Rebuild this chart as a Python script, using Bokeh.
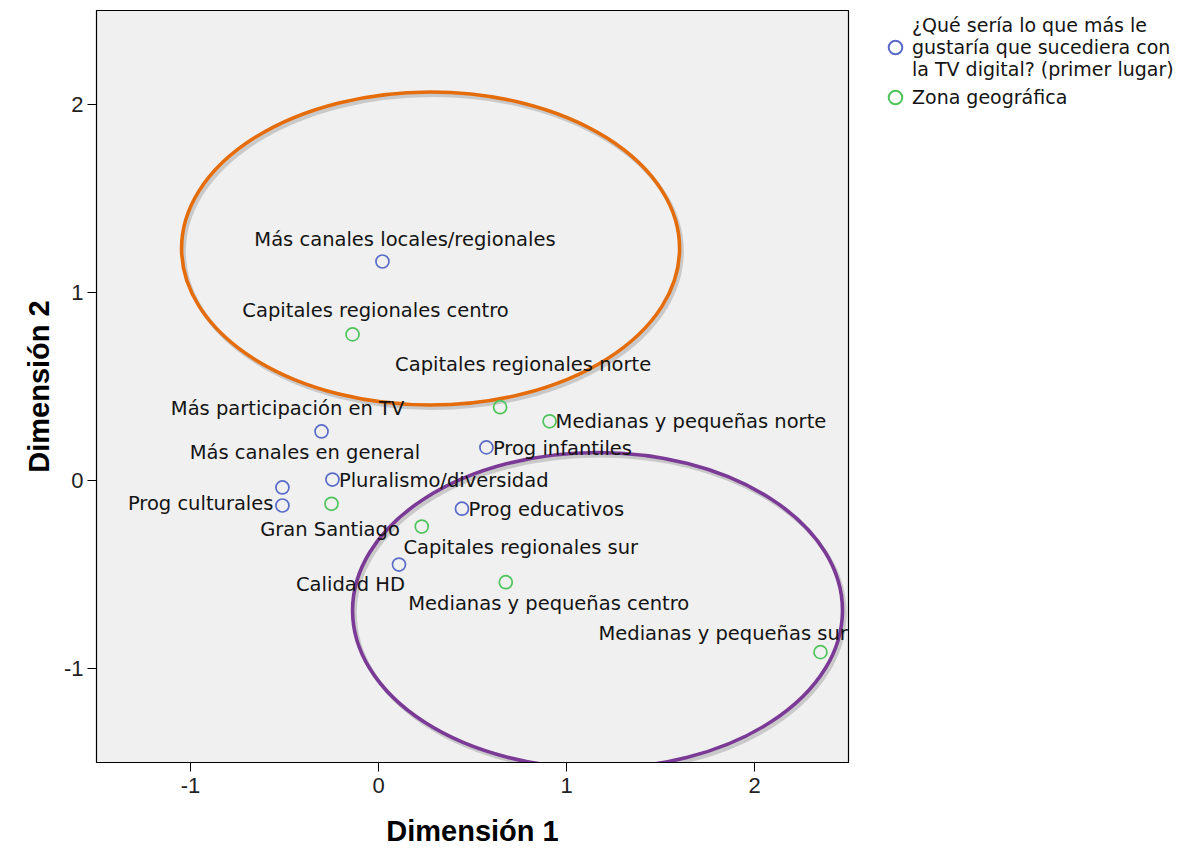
from bokeh.plotting import figure
from bokeh.layouts import row
from bokeh.models import ColumnDataSource, Range1d, Legend, LegendItem, FixedTicker
from bokeh.core.properties import value, field
from bokeh.embed import file_html
from bokeh.resources import INLINE

# ---------------- data ----------------
q_labels = ["Más canales locales/regionales", "Más participación en TV", "Más canales en general",
            "Pluralismo/diversidad", "Prog culturales", "Prog infantiles", "Prog educativos", "Calidad HD"]
q_dim1 = [0.021, -0.303, -0.511, -0.245, -0.511, 0.574, 0.444, 0.109]
q_dim2 = [1.165, 0.261, -0.037, 0.005, -0.133, 0.176, -0.150, -0.447]

z_labels = ["Capitales regionales centro", "Capitales regionales norte", "Medianas y pequeñas norte",
            "Gran Santiago", "Capitales regionales sur", "Medianas y pequeñas centro", "Medianas y pequeñas sur"]
z_dim1 = [-0.138, 0.647, 0.910, -0.250, 0.230, 0.677, 2.351]
z_dim2 = [0.777, 0.390, 0.315, -0.124, -0.245, -0.541, -0.913]

series_names = ["¿Qué sería lo que más le\ngustaría que sucediera con\nla TV digital? (primer lugar)",
                "Zona geográfica"]
ticks = [-1, 0, 1, 2]
tick_labels = ["-1", "0", "1", "2"]

# ---------------- label layout (pixel offsets, alignment) ----------------
q_align = ["center", "center", "center", "left", "right", "left", "left", "center"]
q_xo = [22.5, -34, 22.5, 6.5, -9, 6.5, 6.5, -48.5]
q_yo = [-22, -23, -35, 1, -2, 1, 1, 20]
z_align = ["center", "center", "left", "center", "center", "center", "left"]
z_xo = [23, 23, 6, -1.5, 99, 43, -222]
z_yo = [-24, -43, 0, 26, 21, 21, -19]

BLUE = "#5a6bc8"
GREEN = "#4fc45c"
LABEL_FONT = "DejaVu Sans"
LABEL_SIZE = "19.5px"

p = figure(width=850, height=850, output_backend="svg", toolbar_location=None,
           x_range=Range1d(-1.5, 2.5), y_range=Range1d(-1.5, 2.5),
           min_border_left=96, min_border_top=10, min_border_right=2, min_border_bottom=88,
           background_fill_color="#f0f0f0", border_fill_color="white")
p.xgrid.visible = False
p.ygrid.visible = False
p.outline_line_color = "black"
p.outline_line_width = 1.2

for ax in (p.xaxis[0], p.yaxis[0]):
    ax.ticker = FixedTicker(ticks=ticks)
    ax.major_label_overrides = {t: s for t, s in zip(ticks, tick_labels)}
    ax.major_tick_in = 0
    ax.major_tick_out = 9
    ax.minor_tick_out = 0
    ax.minor_tick_in = 0
    ax.axis_line_color = "black"
    ax.major_tick_line_color = "black"
    ax.major_label_text_font = "Liberation Sans"
    ax.major_label_text_font_size = "22px"
    ax.major_label_text_color = "#222222"
    ax.axis_label_text_font = "Liberation Sans"
    ax.axis_label_text_font_style = "bold"
    ax.axis_label_text_font_size = "29px"
    ax.axis_label_text_color = "black"

p.xaxis.axis_label = "Dimensión 1"
p.yaxis.axis_label = "Dimensión 2"
p.xaxis.major_label_standoff = 6
p.xaxis.axis_label_standoff = 19
p.yaxis.major_label_standoff = 4
p.yaxis.axis_label_standoff = 6

# ---------------- highlight ellipses ----------------
ell_x = [0.277, 1.165]
ell_y = [1.234, -0.691]
ell_w = [2.649, 2.606]
ell_h = [1.665, 1.681]
ell_col = ["#e46c0a", "#7b3a96"]
p.ellipse(x=[v + 0.012 for v in ell_x], y=[v - 0.016 for v in ell_y], width=ell_w, height=ell_h,
          fill_alpha=0, line_color="#808080", line_alpha=0.35, line_width=4)
p.ellipse(x=ell_x, y=ell_y, width=ell_w, height=ell_h, fill_alpha=0,
          line_color=ell_col, line_width=3.6)

# ---------------- points ----------------
qsrc = ColumnDataSource(dict(x=q_dim1, y=q_dim2, t=q_labels, al=q_align, xo=q_xo, yo=q_yo))
zsrc = ColumnDataSource(dict(x=z_dim1, y=z_dim2, t=z_labels, al=z_align, xo=z_xo, yo=z_yo))

p.scatter("x", "y", source=qsrc, marker="circle", size=13, fill_alpha=0,
          line_color=BLUE, line_width=1.7)
p.scatter("x", "y", source=zsrc, marker="circle", size=13, fill_alpha=0,
          line_color=GREEN, line_width=1.7)

for src in (qsrc, zsrc):
    p.text("x", "y", text="t", source=src, text_align=field("al"), text_baseline="middle",
           x_offset="xo", y_offset="yo", text_font=value(LABEL_FONT),
           text_font_size=LABEL_SIZE, text_color="#141414")

# ---------------- legend (separate panel to the right) ----------------
lf = figure(width=328, height=850, output_backend="svg", toolbar_location=None,
            x_axis_type=None, y_axis_type=None, min_border=0,
            x_range=Range1d(0, 1), y_range=Range1d(0, 1),
            outline_line_color=None, background_fill_color="white", border_fill_color="white")
lf.xgrid.visible = False
lf.ygrid.visible = False
lq = lf.scatter([float("nan")], [float("nan")], marker="circle", size=13, fill_alpha=0,
                line_color=BLUE, line_width=2)
lz = lf.scatter([float("nan")], [float("nan")], marker="circle", size=13, fill_alpha=0,
                line_color=GREEN, line_width=2)
legend = Legend(items=[LegendItem(label=series_names[0], renderers=[lq]),
                       LegendItem(label=series_names[1], renderers=[lz])],
                location=(28, 648), orientation="vertical")
legend.glyph_width = 34
legend.glyph_height = 34
legend.padding = 0
legend.margin = 0
legend.spacing = 0
legend.label_standoff = -1
legend.label_text_font = LABEL_FONT
legend.label_text_font_size = "19px"
legend.label_text_color = "#141414"
legend.label_text_line_height = 1.15
legend.border_line_alpha = 0
legend.background_fill_alpha = 0
lf.add_layout(legend, "center")

layout = row(p, lf)
open("out.html", "w").write(file_html(layout, INLINE))
